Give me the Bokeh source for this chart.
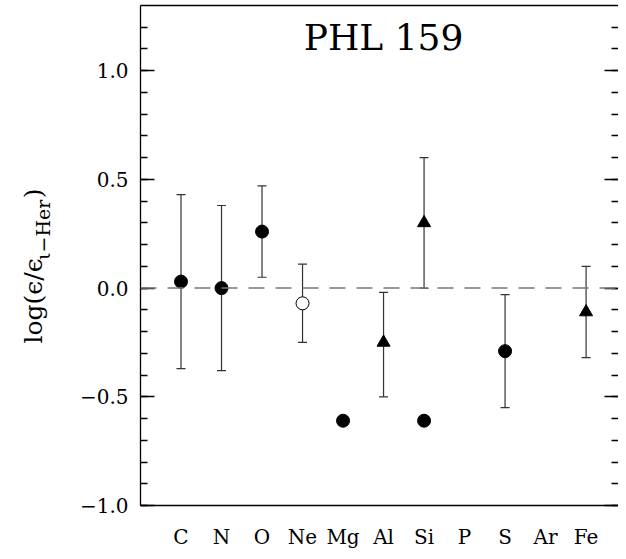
import math
from bokeh.plotting import figure
from bokeh.layouts import row
from bokeh.core.properties import value
from bokeh.models import (Range1d, LinearAxis, FixedTicker, Whisker, TeeHead,
                          ColumnDataSource, Span, Label, CustomJSTickFormatter)
from bokeh.embed import file_html
from bokeh.resources import INLINE

# ---- data ----
elements = ["C", "N", "O", "Ne", "Mg", "Al", "Si", "P", "S", "Ar", "Fe"]

filled_el = ["C", "N", "O", "Mg", "Si", "S"]
filled_val = [0.03, 0.00, 0.26, -0.61, -0.61, -0.29]

open_el = ["Ne"]
open_val = [-0.07]

tri_el = ["Al", "Si", "Fe"]
tri_val = [-0.25, 0.30, -0.11]

err_el = ["C", "N", "O", "Ne", "Al", "Si", "S", "Fe"]
err_lo = [-0.37, -0.38, 0.05, -0.25, -0.50, 0.00, -0.55, -0.32]
err_hi = [0.43, 0.38, 0.47, 0.11, -0.02, 0.60, -0.03, 0.10]

y_ticks = [-1.0, -0.5, 0.0, 0.5, 1.0]
y_tick_labels = ["\u22121.0", "\u22120.5", "0.0", "0.5", "1.0"]
y_minor = [-1.0, -0.9, -0.8, -0.7, -0.6, -0.5, -0.4, -0.3, -0.2, -0.1, 0.0,
           0.1, 0.2, 0.3, 0.4, 0.5, 0.6, 0.7, 0.8, 0.9, 1.0, 1.1, 1.2]

title_text = "PHL 159"
ylabel_main = "log(\u03f5/\u03f5"
ylabel_sub = "\u03b9\u2212Her"
ylabel_end = ")"

FONT = "DejaVu Serif"
H = 551
LW = 58
TOP = 5        # frame top (px)
BOT = 508      # frame bottom (px)
pos = {e: i + 1 for i, e in enumerate(elements)}

# ---- narrow panel holding the y-axis title; its frame aligns with the main frame ----
lab = figure(width=LW, height=H, x_range=Range1d(0, LW), y_range=Range1d(H - BOT, H - TOP),
             output_backend="svg", toolbar_location=None, tools="",
             min_border_left=0, min_border_right=0, min_border_top=TOP, min_border_bottom=H - BOT,
             x_axis_location=None, y_axis_location=None)
lab.outline_line_color = None
lab.grid.visible = False
lab.border_fill_color = "white"
lab.background_fill_color = "white"
tstyle = dict(angle=math.pi / 2, text_align="left", text_baseline="alphabetic",
              text_font=value(FONT), text_color="black")
lab.text(x=[33], y=[H - 345], text=[ylabel_main], text_font_size="25px", **tstyle)
lab.text(x=[42], y=[H - 261], text=[ylabel_sub], text_font_size="19px", **tstyle)
lab.text(x=[33], y=[H - 199], text=[ylabel_end], text_font_size="25px", **tstyle)

# ---- main plot ----
p = figure(width=618 - LW, height=H, x_range=Range1d(0, 11.8), y_range=Range1d(-1.0, 1.3),
           output_backend="svg", toolbar_location=None, tools="",
           min_border_left=140 - LW, min_border_right=0, min_border_top=TOP, min_border_bottom=H - BOT,
           x_axis_location=None, y_axis_location=None)
p.outline_line_color = None
p.grid.visible = False
p.background_fill_color = "white"
p.border_fill_color = "white"

# bottom axis with element labels
xb = LinearAxis(ticker=FixedTicker(ticks=list(range(1, len(elements) + 1))),
                major_label_overrides={i + 1: e for i, e in enumerate(elements)})
xb.major_tick_in = 0
xb.major_tick_out = 0
xb.minor_tick_in = 0
xb.minor_tick_out = 0
xb.axis_line_color = "black"
xb.axis_line_width = 1.3
xb.major_label_text_font = FONT
xb.major_label_text_font_size = "20px"
xb.major_label_text_color = "black"
xb.major_label_standoff = 19
p.add_layout(xb, "below")

# top axis: line only
xt = LinearAxis(ticker=FixedTicker(ticks=[]))
xt.axis_line_color = "black"
xt.axis_line_width = 1.3
xt.major_tick_in = 0
xt.major_tick_out = 0
xt.minor_tick_in = 0
xt.minor_tick_out = 0
xt.major_label_standoff = 0
p.add_layout(xt, "above")

# left axis
yl = LinearAxis(ticker=FixedTicker(ticks=y_ticks, minor_ticks=y_minor),
                major_label_overrides={t: l for t, l in zip(y_ticks, y_tick_labels)})
yl.axis_line_color = "black"
yl.axis_line_width = 1.3
yl.major_tick_in = 14
yl.major_tick_out = 0
yl.minor_tick_in = 7
yl.minor_tick_out = 0
yl.major_tick_line_width = 1.3
yl.minor_tick_line_width = 1.3
yl.major_label_text_font = FONT
yl.major_label_text_font_size = "20px"
yl.major_label_text_color = "black"
yl.major_label_standoff = 12
p.add_layout(yl, "left")

# right axis: ticks only
yr = LinearAxis(ticker=FixedTicker(ticks=y_ticks, minor_ticks=y_minor),
                formatter=CustomJSTickFormatter(code="return ''"))
yr.axis_line_color = None
yr.major_tick_in = 14
yr.major_tick_out = 0
yr.minor_tick_in = 7
yr.minor_tick_out = 0
yr.major_tick_line_width = 1.3
yr.minor_tick_line_width = 1.3
yr.major_label_standoff = 0
p.add_layout(yr, "right")

# zero line
p.add_layout(Span(location=0, dimension="width", line_color="#777777",
                  line_width=1.5, line_dash="16 11"))

# error bars
esrc = ColumnDataSource(dict(x=[pos[e] for e in err_el], lo=err_lo, hi=err_hi))
p.add_layout(Whisker(source=esrc, base="x", lower="lo", upper="hi",
                     line_color="#333333", line_width=1.2,
                     upper_head=TeeHead(size=9, line_color="#333333", line_width=1.2),
                     lower_head=TeeHead(size=9, line_color="#333333", line_width=1.2)))

# points
p.scatter([pos[e] for e in filled_el], filled_val, marker="circle", size=13,
          fill_color="black", line_color="black")
p.scatter([pos[e] for e in open_el], open_val, marker="circle", size=13,
          fill_color="white", line_color="black", line_width=1)
p.scatter([pos[e] for e in tri_el], tri_val, marker="triangle", size=13,
          fill_color="black", line_color="black")

# title inside the frame
p.add_layout(Label(x=6, y=1.155, text=title_text, text_align="center",
                   text_baseline="middle", text_font=FONT, text_font_size="36px",
                   text_color="black"))

layout = row(lab, p, spacing=0)
open("out.html", "w").write(file_html(layout, INLINE))
